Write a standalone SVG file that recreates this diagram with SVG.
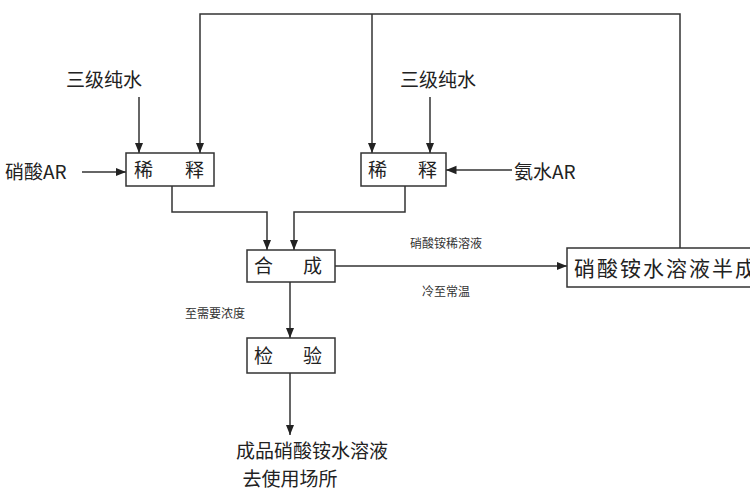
<svg xmlns="http://www.w3.org/2000/svg" width="750" height="500" viewBox="0 0 750 500">
<defs>
<marker id="a" viewBox="0 0 10 10" refX="10" refY="5" markerWidth="7" markerHeight="7" orient="auto"><path d="M0,1 L10,5 L0,9 Z" fill="#222"/></marker>
<style>
.b{fill:#fff;stroke:#333;stroke-width:1.5}
.l{fill:none;stroke:#333;stroke-width:1.5}
.t{font-family:"Noto Sans CJK SC","Liberation Sans",sans-serif;font-size:19px;fill:#222}
.s{font-family:"Noto Sans CJK SC","Liberation Sans",sans-serif;font-size:12px;fill:#333}
</style>
</defs>
<rect width="750" height="500" fill="#fff"/>
<g id="connectors">
<path class="l" d="M680,248 V14 H200 V153" marker-end="url(#a)"/>
<path class="l" d="M372,14 V153" marker-end="url(#a)"/>
<path class="l" d="M139,97 V153" marker-end="url(#a)"/>
<path class="l" d="M430,97 V153" marker-end="url(#a)"/>
<path class="l" d="M82,172 H126" marker-end="url(#a)"/>
<path class="l" d="M512,170 H446" marker-end="url(#a)"/>
<path class="l" d="M172,186 V212 H267 V250" marker-end="url(#a)"/>
<path class="l" d="M405,186 V212 H294 V250" marker-end="url(#a)"/>
<path class="l" d="M335,266 H567" marker-end="url(#a)"/>
<path class="l" d="M290,282 V338" marker-end="url(#a)"/>
<path class="l" d="M290,373 V435" marker-end="url(#a)"/>
</g>
<g id="src1"><text class="t" x="66" y="87">三级纯水</text></g>
<g id="src2"><text class="t" x="400" y="87">三级纯水</text></g>
<g id="src3"><text class="t" x="5" y="179">硝酸AR</text></g>
<g id="src4"><text class="t" x="514" y="179">氨水AR</text></g>
<g id="dil1"><rect class="b" x="126" y="153" width="88" height="33"/><text class="t" x="134" y="177">稀</text><text class="t" x="185" y="177">释</text></g>
<g id="dil2"><rect class="b" x="361" y="153" width="85" height="33"/><text class="t" x="368" y="177">稀</text><text class="t" x="418" y="177">释</text></g>
<g id="syn"><rect class="b" x="247" y="250" width="88" height="32"/><text class="t" x="254" y="273">合</text><text class="t" x="303" y="273">成</text></g>
<g id="chk"><rect class="b" x="247" y="338" width="88" height="35"/><text class="t" x="254" y="363">检</text><text class="t" x="303" y="363">验</text></g>
<g id="semi"><rect class="b" x="567" y="248" width="195" height="39"/><text class="t" x="574" y="276" style="font-size:21px;letter-spacing:2px">硝酸铵水溶液半成品</text></g>
<g id="labels">
<text class="s" x="410" y="248">硝酸铵稀溶液</text>
<text class="s" x="422" y="296">冷至常温</text>
<text class="s" x="185" y="318">至需要浓度</text>
</g>
<g id="out"><text class="t" x="312" y="458" text-anchor="middle">成品硝酸铵水溶液</text><text class="t" x="290" y="486" text-anchor="middle">去使用场所</text></g>
</svg>
